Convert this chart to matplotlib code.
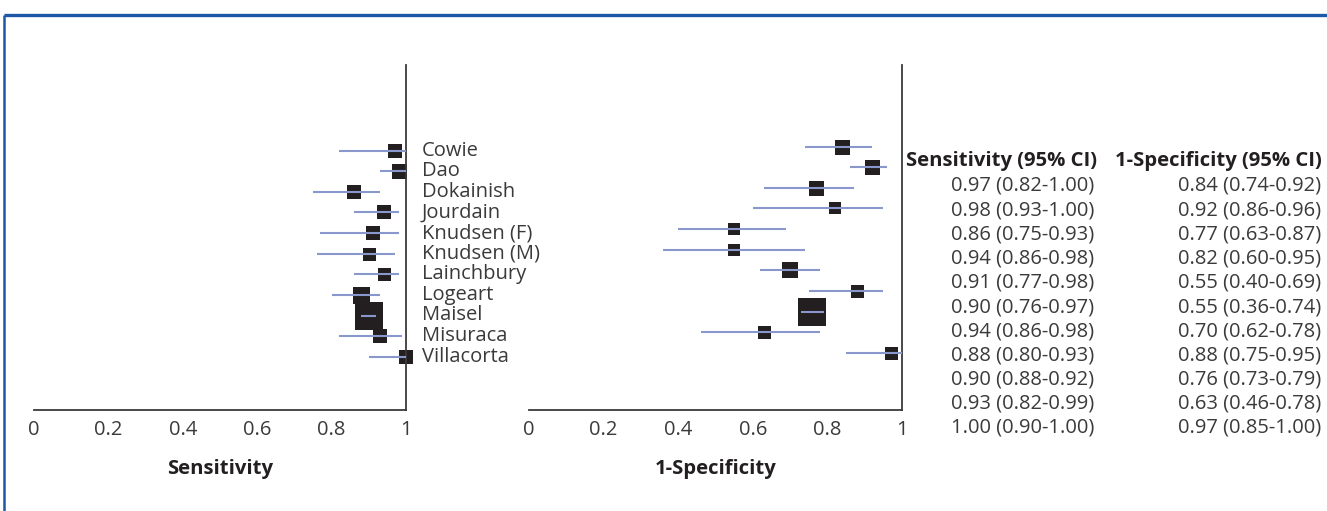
import matplotlib
matplotlib.use('Agg')
import matplotlib.pyplot as plt
from matplotlib.lines import Line2D

plt.rcParams['font.family'] = ['Open Sans', 'DejaVu Sans']

# 研究与数据
studies = ['Cowie', 'Dao', 'Dokainish', 'Jourdain', 'Knudsen (F)', 'Knudsen (M)',
           'Lainchbury', 'Logeart', 'Maisel', 'Misuraca', 'Villacorta']
sens = [0.97, 0.98, 0.86, 0.94, 0.91, 0.90, 0.94, 0.88, 0.90, 0.93, 1.00]
sens_lo = [0.82, 0.93, 0.75, 0.86, 0.77, 0.76, 0.86, 0.80, 0.88, 0.82, 0.90]
sens_hi = [1.00, 1.00, 0.93, 0.98, 0.98, 0.97, 0.98, 0.93, 0.92, 0.99, 1.00]
fpr = [0.84, 0.92, 0.77, 0.82, 0.55, 0.55, 0.70, 0.88, 0.76, 0.63, 0.97]
fpr_lo = [0.74, 0.86, 0.63, 0.60, 0.40, 0.36, 0.62, 0.75, 0.73, 0.46, 0.85]
fpr_hi = [0.92, 0.96, 0.87, 0.95, 0.69, 0.74, 0.78, 0.95, 0.79, 0.78, 1.00]
# 权重（方块边长，像素）
w_sens = [14, 15, 14, 14, 14, 13, 13, 17, 27, 14, 14]
w_fpr = [15, 15, 15, 12, 12, 12, 16, 13, 27, 13, 13]
xticks = [0, 0.2, 0.4, 0.6, 0.8, 1]
xticklabels = ['0', '0.2', '0.4', '0.6', '0.8', '1']

W, H = 1327, 511
DPI = 100
TXT = '#3a3a3a'
DARK = '#231f20'
CI_COL = '#8a97cc'
BLUE = '#1c58a6'
FS = 14.5      # 常规文字
FS_B = 14.6    # 粗体文字


def fx(px):
    return px / W


def fy(py):
    return 1 - py / H


fig = plt.figure(figsize=(W / DPI, H / DPI), dpi=DPI, facecolor='white')

# 蓝色边框（上、左）
fig.add_artist(Line2D([fx(4), 1], [fy(15), fy(15)], color=BLUE, lw=2.4,
                      transform=fig.transFigure, solid_capstyle='butt'))
fig.add_artist(Line2D([fx(4), fx(4)], [fy(15), 0], color=BLUE, lw=1.8,
                      transform=fig.transFigure, solid_capstyle='butt'))


def forest(ax, est, lo, hi, wts, row0, label):
    n = len(est)
    ys = list(range(n))
    top = (65 - row0) / 20.6
    bot = (410 - row0) / 20.6
    for y, e, l, h, w in zip(ys, est, lo, hi, wts):
        ax.plot(e, y, marker='s', color=DARK, markersize=w * 72 / DPI,
                markeredgewidth=0, zorder=2, clip_on=False)
        ax.plot([l, h], [y, y], color=CI_COL, lw=1.5, zorder=3,
                solid_capstyle='butt', clip_on=False)
    ax.set_xlim(0, 1)
    ax.set_ylim(bot, top)
    ax.patch.set_alpha(0)
    for s in ['top', 'left']:
        ax.spines[s].set_visible(False)
    for s in ['bottom', 'right']:
        ax.spines[s].set_color('#3a3a3a')
        ax.spines[s].set_linewidth(1.3)
    ax.set_yticks([])
    ax.set_xticks(xticks)
    ax.set_xticklabels(xticklabels)
    ax.tick_params(axis='x', length=0, pad=7, labelsize=FS, labelcolor=TXT)
    ax.set_xlabel(label, fontsize=FS_B, fontweight='bold', color=DARK, labelpad=14)


ax1 = fig.add_axes([fx(34), fy(410), fx(372), 345 / H])
forest(ax1, sens, sens_lo, sens_hi, w_sens, 150.7, 'Sensitivity')
ax1.set_zorder(3)
for i, name in enumerate(studies):
    ax1.text(1.043, i, name, fontsize=FS, color=TXT, va='center', ha='left',
             clip_on=False)

ax2 = fig.add_axes([fx(529), fy(410), fx(373), 345 / H])
forest(ax2, fpr, fpr_lo, fpr_hi, w_fpr, 146.7, '1-Specificity')

# 右侧表格
fig.text(fx(1097), fy(161), 'Sensitivity (95% CI)', fontsize=FS_B, fontweight='bold',
         color=DARK, ha='right', va='center')
fig.text(fx(1322), fy(161), '1-Specificity (95% CI)', fontsize=FS_B, fontweight='bold',
         color=DARK, ha='right', va='center')
for k in range(len(studies)):
    yy = fy(186 + 24.2 * k)
    fig.text(fx(1094), yy, f'{sens[k]:.2f} ({sens_lo[k]:.2f}-{sens_hi[k]:.2f})',
             fontsize=FS, color=TXT, ha='right', va='center')
    fig.text(fx(1321), yy, f'{fpr[k]:.2f} ({fpr_lo[k]:.2f}-{fpr_hi[k]:.2f})',
             fontsize=FS, color=TXT, ha='right', va='center')

fig.savefig('out.png', dpi=DPI, facecolor='white')
